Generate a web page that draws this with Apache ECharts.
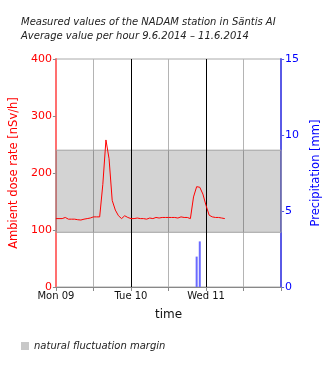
<!DOCTYPE html>
<html><head><meta charset="utf-8">
<script src="https://cdn.jsdelivr.net/npm/echarts@6/dist/echarts.min.js"></script>
<style>html,body{margin:0;padding:0;background:#fff}#c{width:330px;height:370px}</style>
</head><body><div id="c"></div>
<script>
const titleLines = ["Measured values of the NADAM station in Säntis AI", "Average value per hour 9.6.2014 – 11.6.2014"];
const dayLabels = ["Mon 09", "Tue 10", "Wed 11"];
const doseRate = [120,120,120,122,119,119,119,118,117.5,119,120,121,123,123,123,180,258,225,152,135,125,120,125,122,
  120,120,121,120,120,119,121,120,122,121,122,122,122,122,122,121,123,122,122,120,158,176,175,163,143,126,123,122,122,121,120];
const precipitation = [0,0,0,0,0,0,0,0,0,0,0,0,0,0,0,0,0,0,0,0,0,0,0,0,
  0,0,0,0,0,0,0,0,0,0,0,0,0,0,0,0,0,0,0,0,0,2.0,3.0,0,0,0,0,0,0,0,0];
const marginLow = 96, marginHigh = 240;
const dayBoundaries = [24, 48];

const font = "DejaVu Sans";
const chart = echarts.init(document.getElementById('c'));
chart.setOption({
  animation: false,
  textStyle: {fontFamily: font},
  title: {text: titleLines.join('\n'), left: 16, top: 10,
    textStyle: {fontFamily: font, fontSize: 10, fontStyle: 'italic', fontWeight: 'normal', color: '#222', lineHeight: 14}},
  legend: {left: 16, top: 336, icon: 'rect', itemWidth: 8, itemHeight: 8, itemGap: 6,
    data: ['natural fluctuation margin'],
    textStyle: {fontFamily: font, fontSize: 10, fontStyle: 'italic', color: '#222'}},
  grid: {left: 53, right: 48, top: 59, bottom: 83, show: true, borderColor: '#aaa', borderWidth: 1},
  xAxis: {type: 'value', min: 0, max: 72, interval: 12,
    name: 'time', nameLocation: 'middle', nameGap: 22,
    nameTextStyle: {fontFamily: font, fontSize: 12, color: '#111'},
    axisLine: {lineStyle: {color: '#888'}},
    axisTick: {length: 4, lineStyle: {color: '#888'}},
    axisLabel: {fontFamily: font, fontSize: 10, color: '#111', margin: 4,
      formatter: v => (v % 24 === 0 && dayLabels[v / 24]) ? dayLabels[v / 24] : ''},
    splitLine: {show: true, lineStyle: {color: '#b4b4b4'}}},
  yAxis: [
    {type: 'value', min: 0, max: 400, interval: 100, position: 'left',
      name: 'Ambient dose rate [nSv/h]', nameLocation: 'middle', nameGap: 23,
      nameTextStyle: {fontFamily: font, fontSize: 11.5, color: '#ff0000'},
      axisLine: {show: true, lineStyle: {color: '#ff7070', width: 2}},
      axisTick: {show: true, length: 3, lineStyle: {color: '#888'}},
      axisLabel: {fontFamily: font, fontSize: 11, color: '#ff0000', margin: 4},
      splitLine: {show: false}},
    {type: 'value', min: 0, max: 15, interval: 5, position: 'right',
      name: 'Precipitation [mm]', nameLocation: 'middle', nameGap: 17,
      nameTextStyle: {fontFamily: font, fontSize: 11.5, color: '#0000ff'},
      axisLine: {show: true, lineStyle: {color: '#5a5ae6', width: 2}},
      axisTick: {show: true, length: 3, lineStyle: {color: '#5a5ae6'}},
      axisLabel: {fontFamily: font, fontSize: 11, color: '#0000ff', margin: 4},
      splitLine: {show: false}}
  ],
  series: [
    {name: 'natural fluctuation margin', type: 'line', data: [], yAxisIndex: 0,
      itemStyle: {color: '#c8c8c8'}, lineStyle: {color: '#c8c8c8'},
      markArea: {silent: true, itemStyle: {color: 'rgba(0,0,0,0.173)', borderColor: '#a0a0a0', borderWidth: 1},
        data: [[{xAxis: 0, yAxis: marginLow}, {xAxis: 72, yAxis: marginHigh}]]}},
    {name: 'dose', type: 'line', yAxisIndex: 0, showSymbol: false, symbol: 'none',
      lineStyle: {color: '#ff0000', width: 1}, z: 5,
      markLine: {silent: true, symbol: 'none', label: {show: false},
        lineStyle: {color: '#000', type: 'solid', width: 1},
        data: dayBoundaries.map(d => ({xAxis: d}))},
      data: doseRate.map((v, i) => [i, v])},
    {name: 'precip', type: 'bar', yAxisIndex: 1, barWidth: 2, z: 4,
      itemStyle: {color: '#6a6aff'},
      data: precipitation.map((v, i) => [i, v])}
  ]
});
</script></body></html>
